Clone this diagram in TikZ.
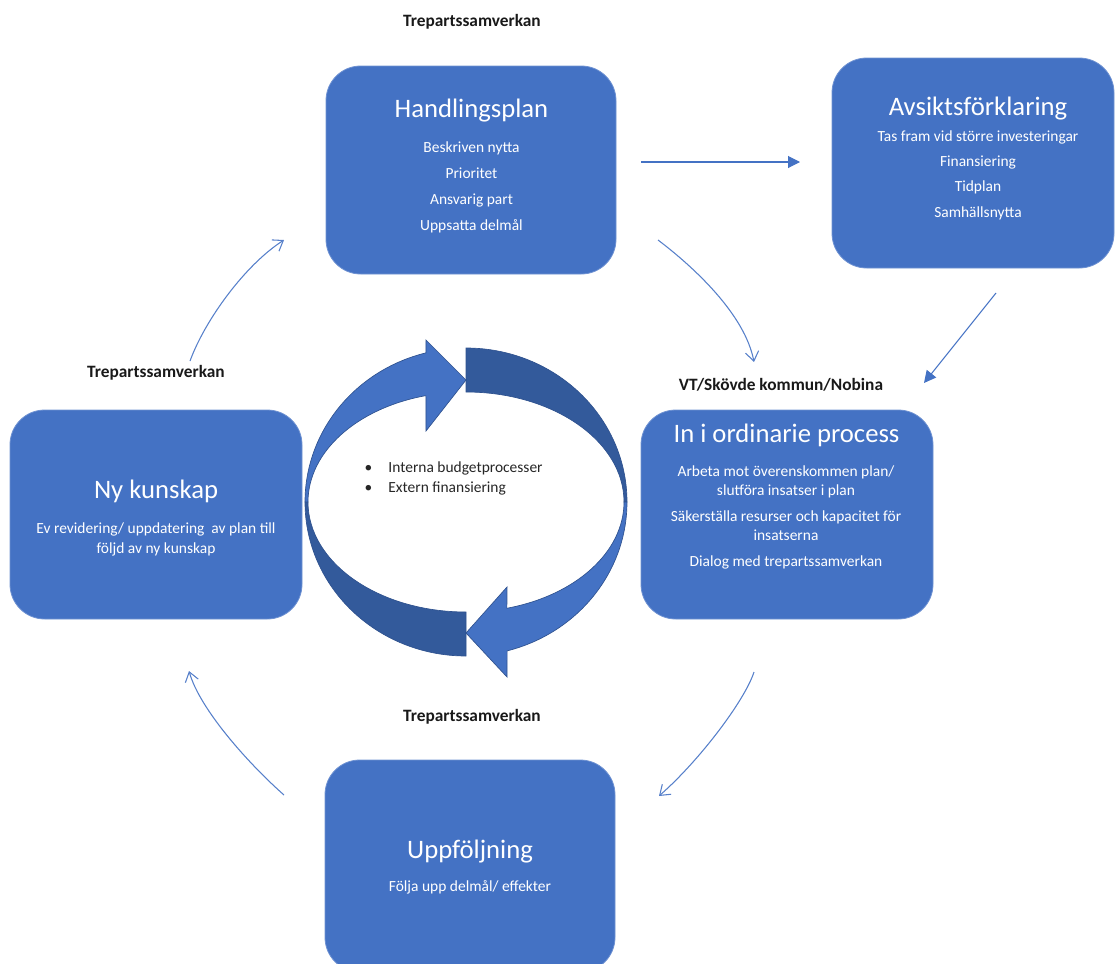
\documentclass[tikz,border=0pt]{standalone}
\usepackage{fontspec}
\setmainfont{Carlito}
\usepackage{xcolor}
\usepackage{tikz}
\usetikzlibrary{positioning,calc,arrows.meta}

\definecolor{planblue}{HTML}{4472C4}
\definecolor{planedge}{HTML}{6F92D2}
\definecolor{ringdark}{HTML}{335A9B}
\definecolor{ringline}{HTML}{2F528F}

\begin{document}
\begin{tikzpicture}[x=0.75pt,y=-0.75pt,
    stepbox/.style={draw=planedge, line width=0.6pt, fill=planblue, rounded corners=26pt, inner sep=0pt},
    boxtitle/.style={text=white, font=\fontsize{20}{24}\selectfont, anchor=base},
    boxtext/.style={text=white, font=\fontsize{11.6}{19.4}\selectfont, align=center, anchor=base},
    partner/.style={text=black!90, font=\bfseries\fontsize{13}{16}\selectfont, anchor=base},
    bullets/.style={text=black!85, font=\fontsize{11.6}{15}\selectfont, align=left, anchor=base west},
    flow/.style={planblue!90, line width=0.8pt, -{Straight Barb[length=7pt,width=10pt]}},
    push/.style={planblue, line width=0.8pt, -{Triangle[length=9pt,width=9pt]}},
    ringface/.style={fill=planblue, draw=ringline, line width=0.5pt},
    ringback/.style={fill=ringdark, draw=ringline, line width=0.5pt}]

    \useasboundingbox (0,0) rectangle (1115,964);
    \clip (0,0) rectangle (1115,964);

    % boxes
    \node[stepbox, minimum width=217.5pt, minimum height=156pt] (hplan) at (471,170) {};
    \node[stepbox, minimum width=211.5pt, minimum height=157.5pt] (avsikt) at (973,163) {};
    \node[stepbox, minimum width=219pt, minimum height=156.75pt] (ordin) at (787,514.5) {};
    \node[stepbox, minimum width=219pt, minimum height=156.75pt] (kunskap) at (156,514.5) {};
    \node[stepbox, minimum width=217.5pt, minimum height=159pt] (uppf) at (470,866) {};

    % Handlingsplan (text nodes sit on the baseline of their last line)
    \node[boxtitle] (hplantitle) at (471.5,117.3) {Handlingsplan};
    \node[boxtext] (hplantext) at (471.5,230) {Beskriven nytta\\Prioritet\\Ansvarig part\\Uppsatta delmål};

    % Avsiktsforklaring
    \node[boxtitle] (avsikttitle) at (978,115) {Avsiktsförklaring};
    \node[boxtext, font=\fontsize{11.6}{19}\selectfont] (avsikttext) at (978,217.3) {Tas fram vid större investeringar\\Finansiering\\Tidplan\\Samhällsnytta};

    % In i ordinarie process
    \node[boxtitle] (ordintitle) at (786.5,442.3) {In i ordinarie process};
    \node[boxtext, font=\fontsize{11.6}{13.9}\selectfont] (ordintext) at (786,566.7) {Arbeta mot överenskommen plan/\\slutföra insatser i plan\\[6pt]Säkerställa resurser och kapacitet för\\insatserna\\[6pt]Dialog med trepartssamverkan};

    % Ny kunskap
    \node[boxtitle] (kunskaptitle) at (156,498.3) {Ny kunskap};
    \node[boxtext, font=\fontsize{11.6}{15}\selectfont] (kunskaptext) at (156,553.3) {Ev revidering/ uppdatering\ \ av plan till\\följd av ny kunskap};

    % Uppfoljning
    \node[boxtitle] (uppftitle) at (470,858.3) {Uppföljning};
    \node[boxtext] (uppftext) at (470,891.7) {Följa upp delmål/ effekter};

    % partners
    \node[partner] (parttop) at (472,26.7) {Trepartssamverkan};
    \node[partner] (partleft) at (156,377.7) {Trepartssamverkan};
    \node[partner] (partright) at (781,390) {VT/Skövde kommun/Nobina};
    \node[partner] (partbottom) at (472,721) {Trepartssamverkan};

    % ring in the middle
    \coordinate (ring) at (466,502);
    \path[ringback] ($(ring)+(270:161 and 154)$) arc[start angle=270, end angle=360, x radius=161, y radius=154]
        -- ($(ring)+(0:158 and 110)$) arc[start angle=0, end angle=-90, x radius=158, y radius=110] -- cycle;
    \path[ringback] ($(ring)+(90:161 and 154)$) arc[start angle=90, end angle=180, x radius=161, y radius=154]
        -- ($(ring)+(180:158 and 110)$) arc[start angle=180, end angle=90, x radius=158, y radius=110] -- cycle;
    \path[ringface] ($(ring)+(180:161 and 154)$) arc[start angle=180, end angle=255.6, x radius=161, y radius=154]
        -- (426,340) -- (466,380) -- (426,431)
        -- ($(ring)+(255.3:158 and 110)$) arc[start angle=255.3, end angle=180, x radius=158, y radius=110] -- cycle;
    \path[ringface] ($(ring)+(0:161 and 154)$) arc[start angle=0, end angle=75.2, x radius=161, y radius=154]
        -- (507,677) -- (466,633) -- (507,587)
        -- ($(ring)+(75:158 and 110)$) arc[start angle=75, end angle=0, x radius=158, y radius=110] -- cycle;

    \node[bullets] (budget) at (360,492.7) {\textbullet\hspace{12pt}Interna budgetprocesser\\\textbullet\hspace{12pt}Extern finansiering};

    % connectors
    \coordinate (a1) at (641,162);
    \coordinate (a2) at (800,162);
    \coordinate (b1) at (996,293);
    \coordinate (b2) at (924,383);
    \coordinate (c1) at (658,240);
    \coordinate (c2) at (754,362);
    \coordinate (d1) at (754,672);
    \coordinate (d2) at (659,796);
    \coordinate (e1) at (284,795);
    \coordinate (e2) at (189,671);
    \coordinate (f1) at (190,361);
    \coordinate (f2) at (284,240);

    \draw[push] (a1) -- (a2);
    \draw[push] (b1) -- (b2);
    \draw[flow] (c1) .. controls (695,268) and (745,315) .. (c2);
    \draw[flow] (d1) .. controls (745,700) and (700,760) .. (d2);
    \draw[flow] (e1) .. controls (250,765) and (200,710) .. (e2);
    \draw[flow] (f1) .. controls (205,320) and (245,265) .. (f2);
\end{tikzpicture}
\end{document}
